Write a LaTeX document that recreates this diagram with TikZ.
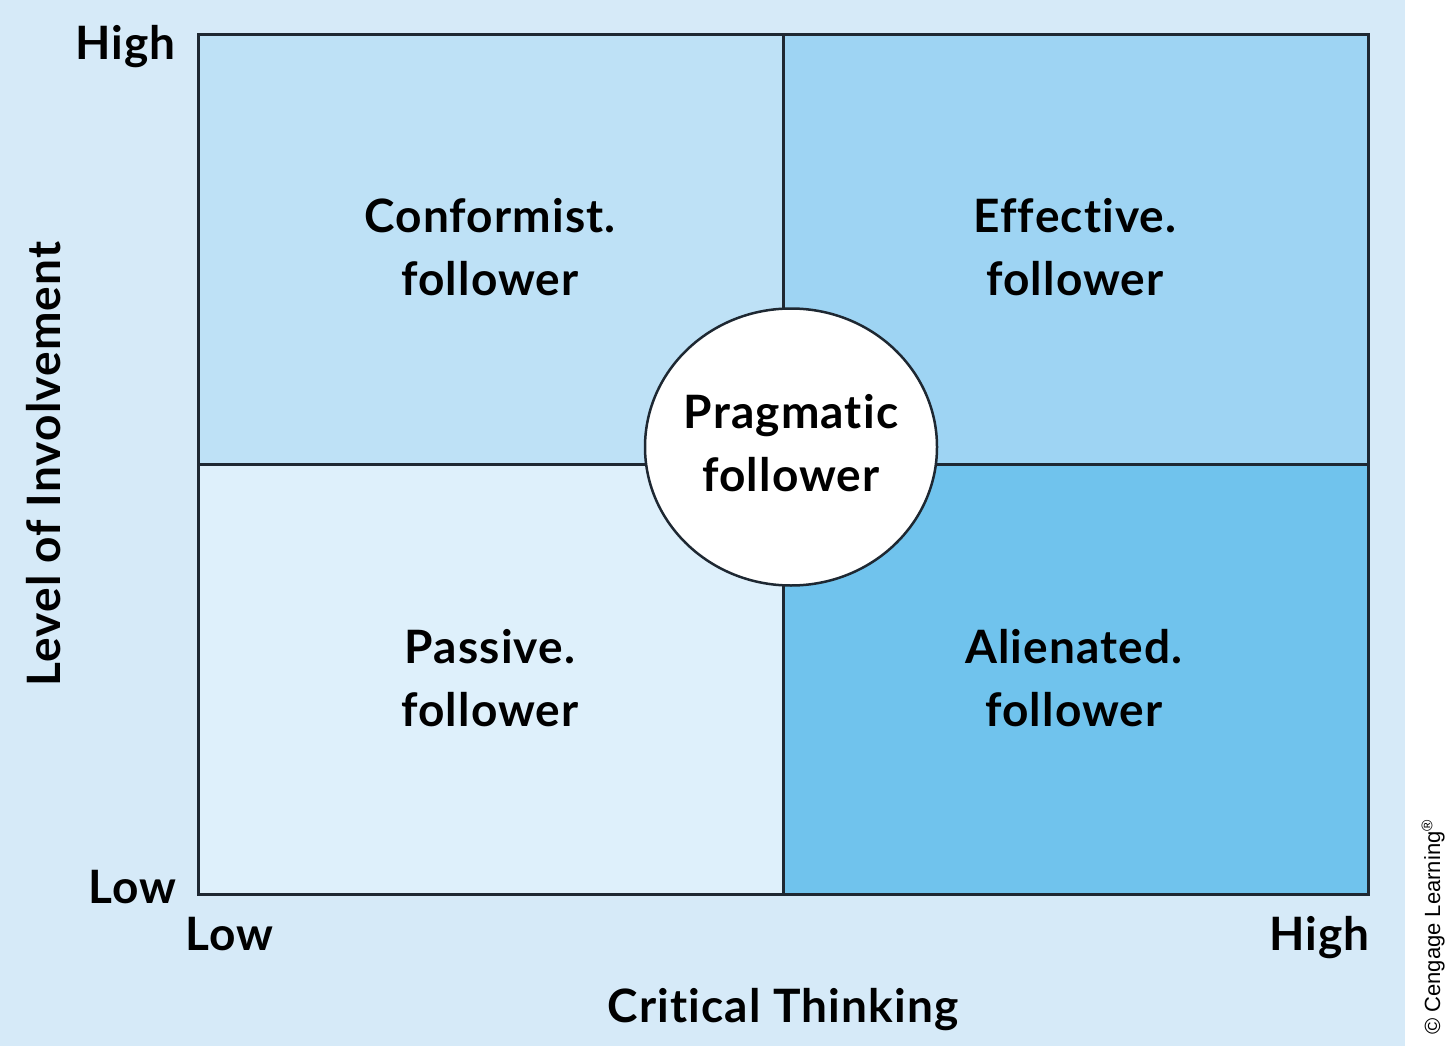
\documentclass[tikz,border=0pt]{standalone}
\usepackage{fontspec}
\setmainfont{Lato}[Ligatures=NoCommon,LetterSpace=2.5]
\newfontfamily\creditfont{Liberation Sans}
\usetikzlibrary{shapes.geometric}
\definecolor{bgblue}{RGB}{214,234,248}
\definecolor{qtl}{RGB}{190,225,246}
\definecolor{qtr}{RGB}{158,212,243}
\definecolor{qbl}{RGB}{222,240,251}
\definecolor{qbr}{RGB}{112,195,237}
\definecolor{edge}{RGB}{30,40,50}
\begin{document}
\begin{tikzpicture}[x=1pt,y=-1pt,
  quad/.style={draw=edge,line width=3pt,minimum width=585pt,minimum height=430pt,inner sep=0pt,anchor=north west},
  qlabel/.style={font=\fontsize{46}{63}\selectfont\bfseries,align=center,text=black,inner sep=0pt},
  axlabel/.style={font=\fontsize{46}{50}\selectfont\bfseries,text=black,inner sep=0pt}]
\useasboundingbox (0,0) rectangle (1454,1046);
\fill[bgblue] (0,0) rectangle (1405,1046);
\fill[white] (1405,0) rectangle (1454,1046);
% quadrants
\node[quad,fill=qtl] (tl) at (197,33) {};
\node[quad,fill=qtr] (tr) at (782,33) {};
\node[quad,fill=qbl] (bl) at (197,463) {};
\node[quad,fill=qbr] (br) at (782,463) {};
% quadrant labels
\node[qlabel] (conf) at (490,247) {Conformist.\\follower};
\node[qlabel] (eff) at (1075,247) {Effective.\\follower};
\node[qlabel] (pas) at (490,678) {Passive.\\follower};
\node[qlabel] (ali) at (1074,678) {Alienated.\\follower};
% central ellipse
\node[ellipse,draw=edge,line width=2.5pt,fill=white,minimum width=292pt,minimum height=277pt,inner sep=0pt] (prag) at (791,447) {};
\node[qlabel] (pragtext) at (791,443) {Pragmatic\\follower};
% axis labels
\node[axlabel,anchor=base east] (yhigh) at (176,60) {High};
\node[axlabel,anchor=base east] (ylow) at (177,903) {Low};
\node[axlabel,anchor=base west] (xlow) at (185,950) {Low};
\node[axlabel,anchor=base east] (xhigh) at (1370,950) {High};
\node[axlabel,anchor=base] (xtitle) at (783,1022) {Critical Thinking};
\node[axlabel,anchor=base,rotate=90] (ytitle) at (60,464) {Level of Involvement};
% credit
\node[font=\creditfont\fontsize{22}{24}\selectfont,rotate=90,anchor=base west,inner sep=0pt] (credit) at (1440,1035) {\textcopyright\ Cengage Learning\textsuperscript{\textregistered}};
\end{tikzpicture}
\end{document}
